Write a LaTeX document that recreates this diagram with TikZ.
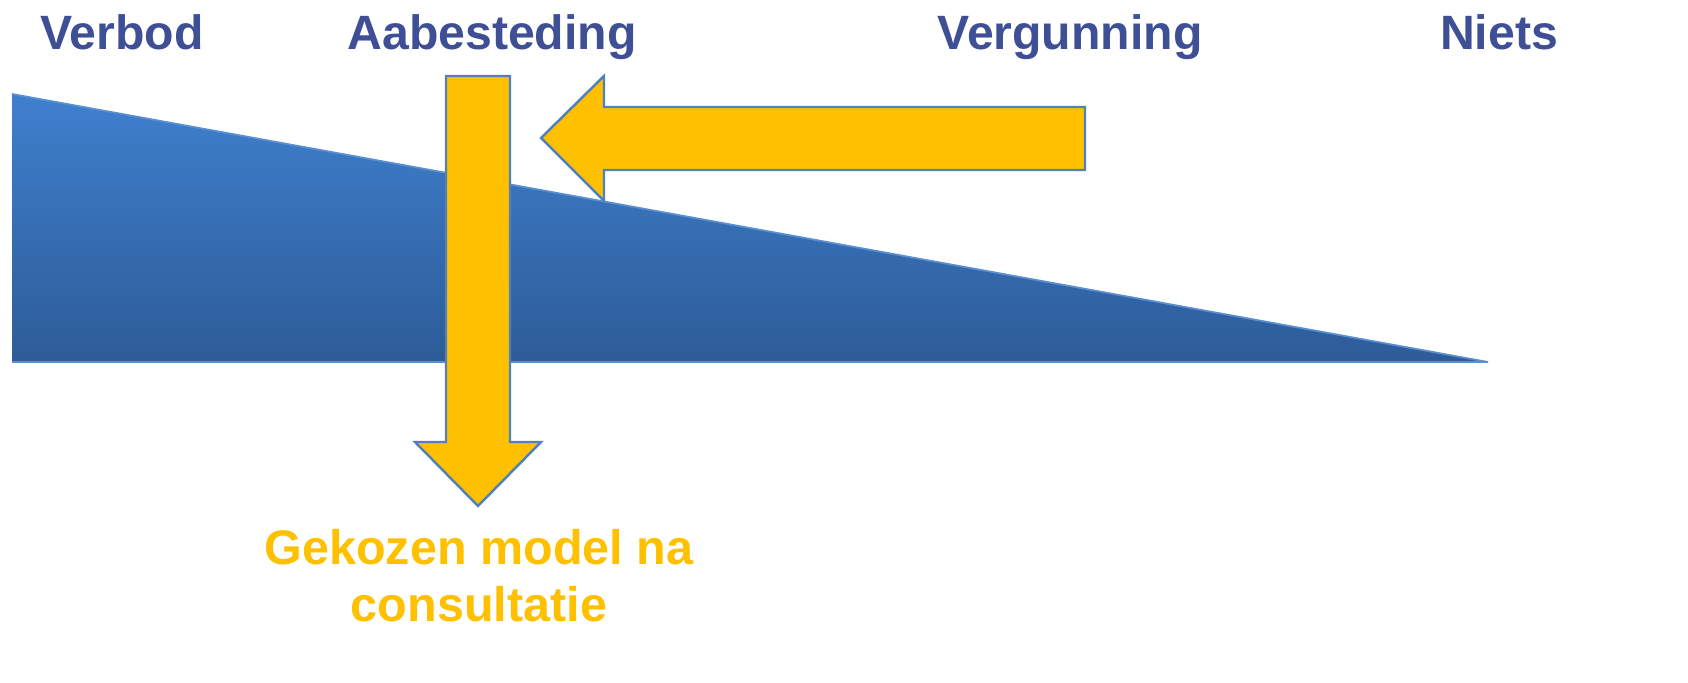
\documentclass[tikz,border=0pt]{standalone}
\usepackage{fontspec}
\setmainfont{Liberation Sans}
\definecolor{labelblue}{HTML}{3F4F96}
\definecolor{arrowyellow}{HTML}{FFC000}
\definecolor{arrowedge}{HTML}{4F81BD}
\definecolor{wedgetop}{HTML}{3F80CE}
\definecolor{wedgebottom}{HTML}{2D5C98}
\definecolor{wedgeedge}{HTML}{5A8FD2}
\begin{document}
\begin{tikzpicture}[x=0.01cm,y=-0.01cm,
  toplabel/.style={font=\fontsize{13.7}{16}\selectfont\bfseries, text=labelblue, anchor=base, inner sep=0pt},
  resultlabel/.style={font=\fontsize{13.8}{16.2}\selectfont\bfseries, text=arrowyellow, align=center, anchor=north, inner sep=0pt},
  fatarrow/.style={fill=arrowyellow, draw=arrowedge, line width=0.7pt, line join=miter}]
\useasboundingbox (0,0) rectangle (1688,683);
% wedge
\shade[top color=wedgetop, bottom color=wedgebottom] (12,94) -- (1488,362) -- (12,362) -- cycle;
\draw[wedgeedge, line width=0.5pt] (12,94) -- (1488,362) -- (12,362);
% horizontal arrow (Vergunning)
\draw[fatarrow] (1085,107) -- (604,107) -- (604,76) -- (541,138) -- (604,201) -- (604,170) -- (1085,170) -- cycle;
% vertical arrow (Aabesteding)
\draw[fatarrow] (446,76) -- (510,76) -- (510,442) -- (541,442) -- (478,506) -- (415,442) -- (446,442) -- cycle;
% labels
\node[toplabel] (verbod) at (122,50) {Verbod};
\node[toplabel] (aanbest) at (492,50) {Aabesteding};
\node[toplabel] (vergun) at (1070,50) {Vergunning};
\node[toplabel] (niets) at (1499,50) {Niets};
\node[resultlabel] (gekozen) at (479,529) {Gekozen model na\\consultatie};
\end{tikzpicture}
\end{document}
